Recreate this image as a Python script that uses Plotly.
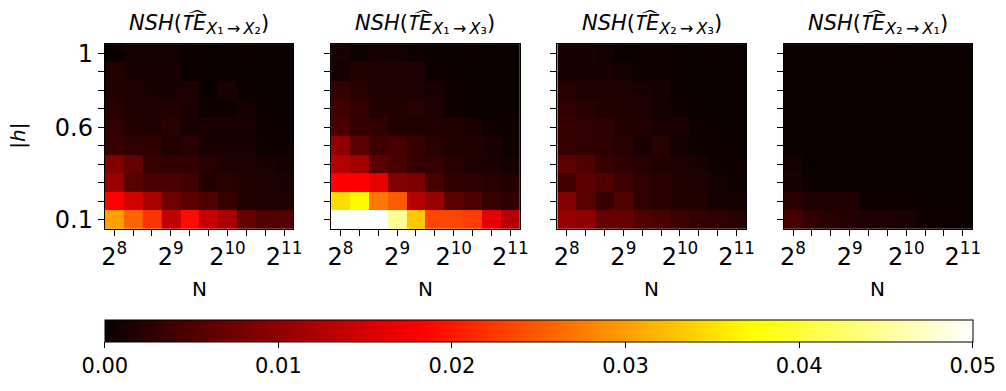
import numpy as np
import plotly.graph_objects as go

W, H = 1006, 391

# N values (log-spaced, 2^8 .. 2^11), |h| values
N_vals = [256, 323, 406, 512, 645, 813, 1024, 1290, 1625, 2048]
h_vals = [0.1, 0.2, 0.3, 0.4, 0.5, 0.6, 0.7, 0.8, 0.9, 1.0]

# rows: |h| = 0.1 (first) ... 1.0 (last); columns: N ascending
nsh_x1_x2 = [
    [0.0302, 0.0257, 0.0220, 0.0134, 0.0190, 0.0142, 0.0119, 0.0067, 0.0052, 0.0055],
    [0.0182, 0.0149, 0.0119, 0.0074, 0.0063, 0.0052, 0.0033, 0.0018, 0.0015, 0.0015],
    [0.0108, 0.0056, 0.0048, 0.0048, 0.0041, 0.0018, 0.0022, 0.0018, 0.0015, 0.0011],
    [0.0089, 0.0067, 0.0033, 0.0030, 0.0030, 0.0022, 0.0015, 0.0015, 0.0011, 0.0007],
    [0.0033, 0.0026, 0.0026, 0.0018, 0.0022, 0.0011, 0.0011, 0.0011, 0.0003, 0.0003],
    [0.0026, 0.0018, 0.0015, 0.0022, 0.0011, 0.0011, 0.0011, 0.0011, 0.0003, 0.0000],
    [0.0022, 0.0015, 0.0015, 0.0018, 0.0011, 0.0003, 0.0003, 0.0007, 0.0000, 0.0000],
    [0.0018, 0.0015, 0.0011, 0.0011, 0.0015, 0.0000, 0.0011, 0.0000, 0.0000, 0.0000],
    [0.0018, 0.0011, 0.0011, 0.0011, 0.0000, 0.0000, 0.0000, 0.0000, 0.0000, 0.0000],
    [0.0000, 0.0007, 0.0007, 0.0007, 0.0000, 0.0000, 0.0000, 0.0000, 0.0000, 0.0000],
]
nsh_x1_x3 = [
    [0.0500, 0.0500, 0.0500, 0.0447, 0.0332, 0.0234, 0.0234, 0.0228, 0.0164, 0.0127],
    [0.0347, 0.0369, 0.0271, 0.0250, 0.0127, 0.0108, 0.0059, 0.0052, 0.0033, 0.0026],
    [0.0182, 0.0182, 0.0164, 0.0089, 0.0086, 0.0044, 0.0030, 0.0026, 0.0022, 0.0018],
    [0.0127, 0.0115, 0.0059, 0.0048, 0.0033, 0.0033, 0.0022, 0.0015, 0.0011, 0.0007],
    [0.0100, 0.0060, 0.0037, 0.0044, 0.0033, 0.0022, 0.0018, 0.0018, 0.0011, 0.0003],
    [0.0048, 0.0033, 0.0030, 0.0018, 0.0018, 0.0018, 0.0018, 0.0011, 0.0003, 0.0003],
    [0.0040, 0.0030, 0.0018, 0.0018, 0.0022, 0.0015, 0.0003, 0.0000, 0.0000, 0.0000],
    [0.0030, 0.0022, 0.0015, 0.0015, 0.0015, 0.0011, 0.0003, 0.0000, 0.0000, 0.0000],
    [0.0007, 0.0018, 0.0015, 0.0015, 0.0015, 0.0003, 0.0000, 0.0000, 0.0000, 0.0000],
    [0.0011, 0.0003, 0.0007, 0.0007, 0.0003, 0.0000, 0.0000, 0.0000, 0.0000, 0.0000],
]
nsh_x2_x3 = [
    [0.0104, 0.0100, 0.0067, 0.0067, 0.0052, 0.0048, 0.0037, 0.0030, 0.0026, 0.0022],
    [0.0089, 0.0056, 0.0033, 0.0052, 0.0026, 0.0022, 0.0018, 0.0018, 0.0007, 0.0007],
    [0.0040, 0.0063, 0.0052, 0.0037, 0.0026, 0.0022, 0.0018, 0.0015, 0.0007, 0.0003],
    [0.0063, 0.0052, 0.0033, 0.0026, 0.0022, 0.0018, 0.0015, 0.0011, 0.0003, 0.0003],
    [0.0033, 0.0030, 0.0026, 0.0022, 0.0011, 0.0022, 0.0007, 0.0003, 0.0003, 0.0000],
    [0.0033, 0.0026, 0.0026, 0.0018, 0.0018, 0.0011, 0.0011, 0.0003, 0.0000, 0.0000],
    [0.0026, 0.0022, 0.0018, 0.0018, 0.0015, 0.0007, 0.0003, 0.0000, 0.0000, 0.0000],
    [0.0022, 0.0015, 0.0015, 0.0015, 0.0011, 0.0007, 0.0000, 0.0000, 0.0000, 0.0000],
    [0.0011, 0.0011, 0.0011, 0.0007, 0.0003, 0.0003, 0.0000, 0.0000, 0.0000, 0.0000],
    [0.0011, 0.0011, 0.0007, 0.0000, 0.0003, 0.0000, 0.0000, 0.0000, 0.0000, 0.0000],
]
nsh_x2_x1 = [
    [0.0044, 0.0026, 0.0022, 0.0018, 0.0015, 0.0015, 0.0011, 0.0003, 0.0003, 0.0000],
    [0.0022, 0.0015, 0.0015, 0.0015, 0.0001, 0.0001, 0.0001, 0.0000, 0.0000, 0.0000],
    [0.0011, 0.0003, 0.0000, 0.0000, 0.0000, 0.0000, 0.0000, 0.0000, 0.0000, 0.0000],
    [0.0007, 0.0000, 0.0000, 0.0000, 0.0000, 0.0000, 0.0000, 0.0000, 0.0000, 0.0000],
    [0.0001, 0.0000, 0.0000, 0.0000, 0.0000, 0.0000, 0.0000, 0.0000, 0.0000, 0.0000],
    [0.0000, 0.0000, 0.0000, 0.0000, 0.0000, 0.0000, 0.0000, 0.0000, 0.0000, 0.0000],
    [0.0000, 0.0000, 0.0000, 0.0000, 0.0000, 0.0000, 0.0000, 0.0000, 0.0000, 0.0000],
    [0.0000, 0.0000, 0.0000, 0.0000, 0.0000, 0.0000, 0.0000, 0.0000, 0.0000, 0.0000],
    [0.0000, 0.0000, 0.0000, 0.0000, 0.0000, 0.0000, 0.0000, 0.0000, 0.0000, 0.0000],
    [0.0000, 0.0000, 0.0000, 0.0000, 0.0000, 0.0000, 0.0000, 0.0000, 0.0000, 0.0000],
]

panels = [nsh_x1_x2, nsh_x1_x3, nsh_x2_x3, nsh_x2_x1]
pairs = [("1", "2"), ("1", "3"), ("2", "3"), ("2", "1")]
sub_digits = {"1": "\u2081", "2": "\u2082", "3": "\u2083"}

# labelled ticks (index into N_vals / h_vals) and their text
x_label_idx = [0, 3, 6, 9]
x_tick_labels = ["2<sup>8</sup>", "2<sup>9</sup>", "2<sup>10</sup>", "2<sup>11</sup>"]
y_tick_vals = [0.1, 0.6, 1.0]
y_tick_labels = ["0.1", "0.6", "1"]

cb_ticks = [0.0, 0.01, 0.02, 0.03, 0.04, 0.05]

# matplotlib "hot" colormap
hot = [
    [0.0, "rgb(11,0,0)"],
    [0.365079, "rgb(255,0,0)"],
    [0.746032, "rgb(255,255,0)"],
    [1.0, "rgb(255,255,255)"],
]

FONT = "DejaVu Sans"
px_left = [103, 332, 561, 790]
pw = 191
top_px, bot_px = 41, 230

logN = np.log2(N_vals)

fig = go.Figure()
annotations = []
for i, z in enumerate(panels):
    xa = "x" if i == 0 else f"x{i+1}"
    ya = "y" if i == 0 else f"y{i+1}"
    fig.add_trace(go.Heatmap(
        x=logN, y=h_vals, z=z,
        zmin=0, zmax=0.05, colorscale=hot,
        xaxis=xa, yaxis=ya,
        showscale=(i == 0),
        colorbar=dict(
            orientation="h",
            x=103 / W, xanchor="left",
            y=1 - 323 / H, yanchor="top",
            len=(981 - 103) / W, lenmode="fraction",
            thickness=22, thicknessmode="pixels",
            xpad=0, ypad=0,
            outlinewidth=1, outlinecolor="black",
            tickvals=cb_ticks, tickformat=".2f",
            ticks="outside", ticklen=6, tickwidth=1, tickcolor="black",
            tickfont=dict(family=FONT, size=21, color="black"),
        ) if i == 0 else None,
    ))
    x0 = px_left[i] / W
    x1 = (px_left[i] + pw) / W
    axkey = "xaxis" if i == 0 else f"xaxis{i+1}"
    aykey = "yaxis" if i == 0 else f"yaxis{i+1}"
    fig.update_layout(**{
        axkey: dict(
            domain=[x0, x1], anchor=ya,
            range=[logN[0] - 1 / 6, logN[-1] + 1 / 6],
            tickmode="array",
            tickvals=[logN[k] for k in x_label_idx], ticktext=x_tick_labels,
            ticks="outside", ticklen=6, tickwidth=1, tickcolor="black",
            minor=dict(tickmode="array", tickvals=list(logN), ticks="outside",
                       ticklen=6, tickwidth=1, tickcolor="black", showgrid=False),
            tickfont=dict(family=FONT, size=24, color="black"),
            showline=True, linecolor="black", linewidth=1, mirror=True,
            showgrid=False, zeroline=False,
        ),
        aykey: dict(
            domain=[1 - bot_px / H, 1 - top_px / H], anchor=xa,
            range=[0.05, 1.05],
            tickmode="array",
            tickvals=y_tick_vals, ticktext=y_tick_labels,
            showticklabels=(i == 0),
            ticks="outside", ticklen=6, tickwidth=1, tickcolor="black",
            minor=dict(tickmode="array", tickvals=h_vals, ticks="outside",
                       ticklen=6, tickwidth=1, tickcolor="black", showgrid=False),
            tickfont=dict(family=FONT, size=24, color="black"),
            showline=True, linecolor="black", linewidth=1, mirror=True,
            showgrid=False, zeroline=False,
        ),
    })
    a, b = pairs[i]
    title = (f"<i>NSH</i>(<i>T\u1DCDE</i><sub><span style='font-size:16px'>"
             f"<i>X</i>{sub_digits[a]}\u2009\u2192\u2009<i>X</i>{sub_digits[b]}"
             f"</span></sub>)")
    annotations.append(dict(
        text=title, x=(x0 + x1) / 2, y=1 - 20 / H,
        xref="paper", yref="paper", xanchor="center", yanchor="middle",
        showarrow=False, font=dict(family=FONT, size=21, color="black"),
    ))
    annotations.append(dict(
        text="N", x=(x0 + x1) / 2, y=1 - 292 / H,
        xref="paper", yref="paper", xanchor="center", yanchor="middle",
        showarrow=False, font=dict(family=FONT, size=20, color="black"),
    ))

annotations.append(dict(
    text="|<i>h</i>|", x=15 / W, y=1 - 135 / H,
    xref="paper", yref="paper", xanchor="center", yanchor="middle",
    textangle=-90, showarrow=False,
    font=dict(family=FONT, size=20, color="black"),
))

fig.update_layout(
    width=W, height=H,
    margin=dict(l=0, r=0, t=0, b=0),
    paper_bgcolor="white", plot_bgcolor="white",
    annotations=annotations,
    showlegend=False,
)

fig.write_html("out.html")
